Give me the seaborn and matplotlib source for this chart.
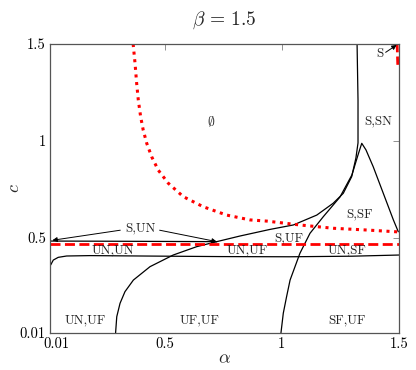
import matplotlib
matplotlib.use("Agg")
import matplotlib.pyplot as plt
import matplotlib.transforms as mtrans
import seaborn as sns
import numpy as np

# ---------------- data ----------------
# black curve rising from the bottom near alpha~0.29 to the S,UN corner
d2_alpha = [0.290, 0.295, 0.309, 0.330, 0.366, 0.437, 0.536, 0.636, 0.722]
d2_c     = [0.010, 0.094, 0.163, 0.223, 0.283, 0.352, 0.412, 0.455, 0.481]

# nearly flat black line under the S,UN region
d1_alpha = [0.010, 0.300, 0.722]
d1_c     = [0.484, 0.483, 0.481]

# black curve from the S,UN corner up to the vertical branch
b_alpha = [0.722, 0.821, 0.949, 1.049, 1.149, 1.219, 1.262, 1.298, 1.316, 1.325, 1.325, 1.321]
b_c     = [0.481, 0.510, 0.544, 0.567, 0.618, 0.679, 0.730, 0.816, 0.912, 0.990, 1.211, 1.500]

# black curve from alpha=1 at the bottom, over the peak, down to the right edge
e_alpha = [0.996, 1.006, 1.020, 1.035, 1.077, 1.120, 1.177, 1.248, 1.299, 1.325,
           1.341, 1.359, 1.390, 1.433, 1.476, 1.497]
e_c     = [0.010, 0.112, 0.197, 0.283, 0.421, 0.524, 0.610, 0.711, 0.825, 0.928,
           0.988, 0.954, 0.867, 0.730, 0.593, 0.532]

# lower nearly flat black line
f_alpha = [0.013, 0.024, 0.045, 0.081, 0.181, 0.394, 0.736, 1.035, 1.300, 1.500]
f_c     = [0.361, 0.386, 0.400, 0.407, 0.409, 0.407, 0.404, 0.403, 0.406, 0.412]

# red dotted curve
g_alpha = [0.365, 0.373, 0.380, 0.387, 0.397, 0.408, 0.423, 0.444, 0.472, 0.515,
           0.579, 0.664, 0.764, 0.864, 0.935, 1.077, 1.219, 1.362, 1.500]
g_c     = [1.500, 1.401, 1.297, 1.211, 1.125, 1.056, 0.988, 0.919, 0.850, 0.782,
           0.713, 0.661, 0.618, 0.593, 0.587, 0.567, 0.550, 0.541, 0.531]

# red dashed horizontal line
h_alpha = [0.01, 1.5]
h_c     = [0.47, 0.47]

# red dashed piece at the top-right corner
r_alpha = [1.492, 1.495]
r_c     = [1.500, 1.380]

x_ticks = [0.01, 0.5, 1, 1.5]
x_ticklabels = ["0.01", "0.5", "1", "1.5"]
y_ticks = [0.01, 0.5, 1, 1.5]
y_ticklabels = ["0.01", "0.5", "1", "1.5"]

region_labels = [r"$\emptyset$", "S,SN", "S,SF", "S,UF", "UN,UF", "UN,SF", "UN,UN",
                 "UN,UF", "UF,UF", "SF,UF"]
region_alpha = [0.697, 1.410, 1.333, 1.030, 0.850, 1.276, 0.280, 0.159, 0.650, 1.277]
region_c     = [1.099, 1.103, 0.624, 0.498, 0.434, 0.434, 0.438, 0.077, 0.077, 0.077]

# ---------------- style ----------------
sns.set_theme(style="white")
plt.rcParams["font.family"] = ["cmr10", "DejaVu Serif"]
plt.rcParams["mathtext.fontset"] = "cm"
plt.rcParams["axes.formatter.use_mathtext"] = True
plt.rcParams["axes.unicode_minus"] = False

fig = plt.figure(figsize=(4.16, 3.70), dpi=100)
ax = fig.add_axes([50/416, 37/370, 349/416, 289/370])

blk = dict(color="black", linewidth=0.9, sort=False, estimator=None, ax=ax)
sns.lineplot(x=d2_alpha, y=d2_c, **blk)
sns.lineplot(x=d1_alpha, y=d1_c, **blk)
sns.lineplot(x=b_alpha, y=b_c, **blk)
sns.lineplot(x=e_alpha, y=e_c, **blk)
sns.lineplot(x=f_alpha, y=f_c, **blk)

sns.lineplot(x=g_alpha, y=g_c, color="red", linewidth=2.2, sort=False, estimator=None,
             ax=ax, linestyle=(0, (1.0, 1.5)), dash_capstyle="butt")
sns.lineplot(x=h_alpha, y=h_c, color="red", linewidth=2.0, sort=False, estimator=None,
             ax=ax, linestyle=(0, (3.6, 1.6)), dash_capstyle="butt")
sns.lineplot(x=r_alpha, y=r_c, color="red", linewidth=2.0, sort=False, estimator=None,
             ax=ax, linestyle=(0, (3.0, 1.5)), dash_capstyle="butt")

ax.set_xlim(0.01, 1.5)
ax.set_ylim(0.01, 1.5)
ax.set_xticks(x_ticks)
ax.set_xticklabels(x_ticklabels)
ax.set_yticks(y_ticks)
ax.set_yticklabels(y_ticklabels)
ax.tick_params(axis="both", which="both", direction="in", length=4, width=0.6,
               colors="#7f7f7f", labelcolor="black", labelsize=10.5,
               top=True, right=True, pad=3)
# nudge the first x tick label right, as in the reference
first = ax.get_xticklabels()[0]
first.set_transform(first.get_transform() + mtrans.ScaledTranslation(6/100, 0, fig.dpi_scale_trans))

for s in ax.spines.values():
    s.set_visible(True)
    s.set_color("#555555")
    s.set_linewidth(0.9)

ax.set_xlabel(r"$\alpha$", fontsize=13, labelpad=0)
ax.set_ylabel(r"$c$", fontsize=13, labelpad=-2)
ax.set_title(r"$\beta\,=\,1.5$", fontsize=14, pad=14)

for lab, xa, yc in zip(region_labels, region_alpha, region_c):
    fs = 10 if lab.startswith("$") else 9.3
    ax.text(xa, yc, lab, fontsize=fs, ha="center", va="center", color="#222222")

# S,UN label with two arrows
ax.text(0.394, 0.552, "S,UN", fontsize=9.3, ha="center", va="center", color="#222222")
arr = dict(arrowstyle="-|>", color="black", lw=0.7, mutation_scale=7, shrinkA=0, shrinkB=0)
ax.annotate("", xy=(0.020, 0.488), xytext=(0.310, 0.540), arrowprops=arr)
ax.annotate("", xy=(0.722, 0.481), xytext=(0.478, 0.540), arrowprops=arr)

# S label with arrow
ax.text(1.420, 1.447, "S", fontsize=9.3, ha="center", va="center", color="#222222")
ax.annotate("", xy=(1.490, 1.495), xytext=(1.443, 1.457), arrowprops=arr)

fig.savefig("out.png", dpi=100)
